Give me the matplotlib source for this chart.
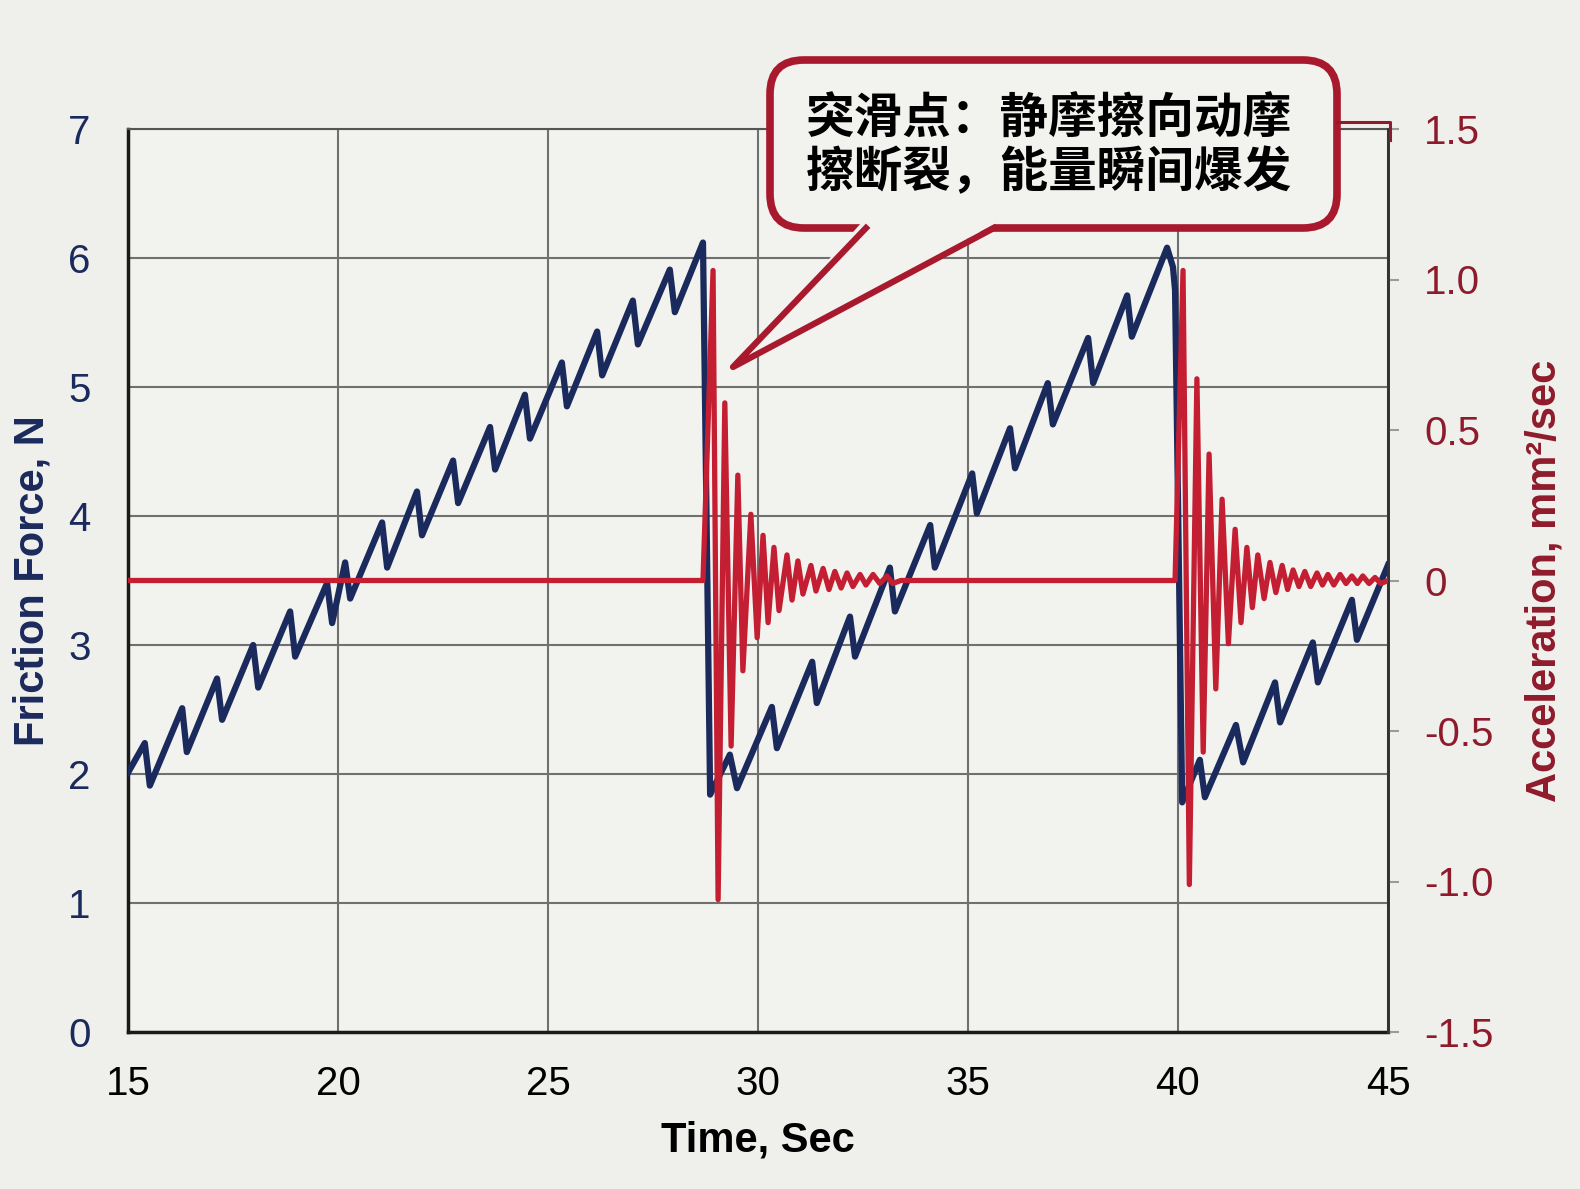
import matplotlib
matplotlib.use("Agg")
import matplotlib.pyplot as plt
from matplotlib.patches import FancyBboxPatch, Polygon
from matplotlib.lines import Line2D
from matplotlib.transforms import Affine2D

# axis ticks
time_ticks = [15, 20, 25, 30, 35, 40, 45]
force_ticks = [0, 1, 2, 3, 4, 5, 6, 7]
accel_ticks = [-1.5, -1.0, -0.5, 0, 0.5, 1.0, 1.5]
accel_tick_labels = ['-1.5', '-1.0', '-0.5', '0', '0.5', '1.0', '1.5']

# friction force (stick-slip sawtooth)
force_t = [15.0, 15.40, 15.52, 16.29, 16.40, 17.12, 17.24, 17.98, 18.10, 18.86, 18.98,
           19.74, 19.86, 20.17, 20.29, 21.05, 21.17, 21.88, 22.00, 22.74, 22.86, 23.62,
           23.74, 24.45, 24.57, 25.33, 25.45, 26.17, 26.29, 27.02, 27.14, 27.90, 28.02,
           28.69, 28.86, 29.33, 29.50, 30.33, 30.45, 31.29, 31.40, 32.19, 32.31, 33.14,
           33.26, 34.10, 34.21, 35.10, 35.21, 36.00, 36.12, 36.90, 37.02, 37.86, 37.98,
           38.79, 38.90, 39.74, 39.88, 39.93, 40.10, 40.52, 40.64, 41.38, 41.55, 42.31,
           42.43, 43.21, 43.33, 44.14, 44.26, 45.0]
force_n = [2.01, 2.24, 1.91, 2.51, 2.17, 2.74, 2.42, 3.00, 2.67, 3.26, 2.91,
           3.48, 3.17, 3.64, 3.36, 3.95, 3.60, 4.19, 3.85, 4.43, 4.10, 4.69,
           4.36, 4.94, 4.60, 5.19, 4.85, 5.43, 5.09, 5.67, 5.33, 5.91, 5.58,
           6.12, 1.84, 2.15, 1.89, 2.52, 2.20, 2.87, 2.55, 3.22, 2.91, 3.60,
           3.26, 3.93, 3.60, 4.33, 4.02, 4.68, 4.37, 5.03, 4.71, 5.38, 5.03,
           5.71, 5.39, 6.08, 5.93, 5.75, 1.78, 2.11, 1.82, 2.38, 2.09, 2.71,
           2.40, 3.02, 2.71, 3.35, 3.04, 3.62]

# acceleration (ringing after each slip)
accel_t = [15.0, 28.69,
           28.93, 29.05, 29.21, 29.36, 29.52, 29.64, 29.83, 29.98, 30.12, 30.24,
           30.38, 30.50, 30.69, 30.81, 30.95, 31.07, 31.26, 31.38, 31.55, 31.69,
           31.83, 31.98, 32.12, 32.26, 32.43, 32.57, 32.74, 32.90, 33.07, 33.21,
           33.40, 39.93,
           40.12, 40.27, 40.45, 40.60, 40.74, 40.90, 41.05, 41.20, 41.36, 41.50,
           41.64, 41.77, 41.90, 42.05, 42.19, 42.33, 42.48, 42.61, 42.74, 42.88,
           43.02, 43.16, 43.31, 43.44, 43.57, 43.71, 43.86, 44.00, 44.14, 44.27,
           44.40, 44.55, 44.69, 44.83, 45.0]
accel_v = [0, 0,
           1.03, -1.06, 0.59, -0.55, 0.35, -0.30, 0.22, -0.19, 0.15, -0.14,
           0.11, -0.10, 0.085, -0.065, 0.065, -0.045, 0.05, -0.035, 0.04, -0.03,
           0.03, -0.025, 0.025, -0.02, 0.02, -0.015, 0.02, -0.01, 0.015, -0.01,
           0, 0,
           1.03, -1.01, 0.67, -0.57, 0.42, -0.36, 0.27, -0.21, 0.17, -0.14,
           0.11, -0.09, 0.085, -0.06, 0.06, -0.04, 0.05, -0.03, 0.035, -0.02,
           0.03, -0.02, 0.025, -0.015, 0.02, -0.015, 0.02, -0.01, 0.015, -0.01,
           0.015, -0.01, 0.01, -0.01, 0]

callout_lines = ['突滑点：静摩擦向动摩', '擦断裂，能量瞬间爆发']

navy = '#1B2A5C'
red = '#C41E32'
dark_red = '#8E1B2C'
box_red = '#A8192E'
bg = '#EFEFEB'
panel = '#F2F2EE'

plt.rcParams['font.family'] = ['Liberation Sans', 'DejaVu Sans']

W, H = 1580, 1189
fig = plt.figure(figsize=(W / 100, H / 100), dpi=100, facecolor=bg)
ax = fig.add_axes([128 / W, 1 - 1032 / H, 1260 / W, 903 / H], facecolor=panel)

ax.plot(force_t, force_n, color=navy, lw=4.5, solid_joinstyle='round', zorder=3)
ax.set_xlim(15, 45)
ax.set_ylim(0, 7)
ax.set_xticks(time_ticks)
ax.set_yticks(force_ticks)
ax.grid(True, color='#707070', lw=1.5)
ax.tick_params(axis='both', length=0, labelsize=29)
ax.tick_params(axis='x', pad=24, labelcolor='black')
ax.tick_params(axis='y', pad=27, labelcolor=navy)
for side in ['left', 'bottom']:
    ax.spines[side].set_color('#1a1a1a')
    ax.spines[side].set_linewidth(2.5)
ax.spines['top'].set_color('#555555')
ax.spines['top'].set_linewidth(1.5)
ax.spines['right'].set_color('#333333')
ax.spines['right'].set_linewidth(2)

ax.set_xlabel('Time, Sec', fontsize=30, fontweight='bold', color='black')
ax.xaxis.set_label_coords(0.5, -0.098)
ax.set_ylabel('Friction Force, N', fontsize=30, fontweight='bold', color=navy)
ax.yaxis.set_label_coords(-0.06, 0.5)

ax2 = ax.twinx()
ax2.plot(accel_t, accel_v, color=red, lw=3.8, solid_joinstyle='round', zorder=4)
ax2.set_ylim(-1.5, 1.5)
ax2.set_yticks(accel_ticks)
ax2.set_yticklabels(accel_tick_labels)
ax2.tick_params(axis='y', length=8, width=1.5, color='#9a9a9a', pad=18,
                labelsize=29, labelcolor=dark_red)
for side in ['left', 'top', 'bottom']:
    ax2.spines[side].set_visible(False)
ax2.spines['right'].set_color('#333333')
ax2.spines['right'].set_linewidth(2)
ax2.set_ylabel('Acceleration, mm²/sec', fontsize=30, fontweight='bold', color=dark_red)
ax2.yaxis.set_label_coords(1.108, 0.5)

# callout box, drawn in pixel units (origin top-left)
px = Affine2D().scale(1 / W, 1 / H) + fig.transFigure


def Y(y):
    return H - y


box = FancyBboxPatch((770, Y(228)), 1337 - 770, 228 - 60,
                     boxstyle='round,pad=0,rounding_size=34',
                     transform=px, facecolor=panel, edgecolor=box_red,
                     lw=5.5, zorder=10)
fig.add_artist(box)
tail_fill = Polygon([(862, Y(222)), (733, Y(367)), (998, Y(222))], closed=True,
                    transform=px, facecolor=panel, edgecolor='none', zorder=11)
fig.add_artist(tail_fill)
tail_edge = Line2D([866, 733, 994], [Y(228), Y(367), Y(228)], transform=px,
                   color=box_red, lw=4.5, solid_joinstyle='round', zorder=12)
fig.add_artist(tail_edge)
bracket = Line2D([1337, 1390, 1390], [Y(122), Y(122), Y(140)], transform=px,
                 color=dark_red, lw=2.2, zorder=12)
fig.add_artist(bracket)

for i, line in enumerate(callout_lines):
    fig.text(1049 / W, 1 - (119 + 54 * i) / H, line, ha='center', va='center',
             fontsize=35, fontweight='bold', color='black',
             family=['Noto Sans CJK SC', 'DejaVu Sans'], zorder=13)

fig.savefig('out.png', dpi=100, facecolor=bg)
